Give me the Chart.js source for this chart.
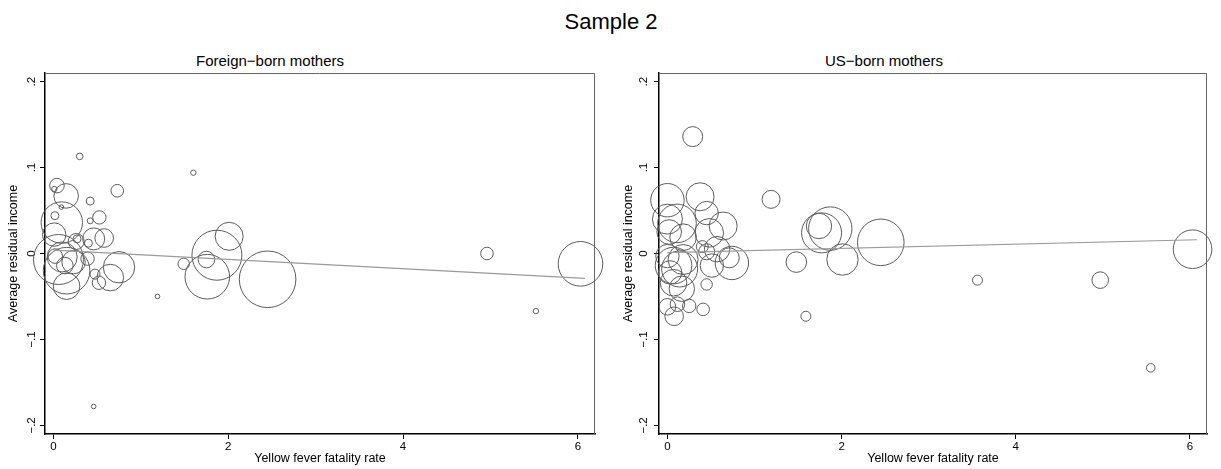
<!DOCTYPE html>
<html><head><meta charset="utf-8">
<script src="https://cdn.jsdelivr.net/npm/chart.js@4.4.1/dist/chart.umd.min.js"></script>
<style>
html,body{margin:0;padding:0;background:#fff;width:1221px;height:469px;overflow:hidden;font-family:'Liberation Sans',Arial,Helvetica,sans-serif}
.t{position:absolute;white-space:nowrap;transform:translate(-50%,-50%);color:#000;line-height:1}
.cv{position:absolute;top:0}
</style></head><body>
<div id="mainTitle" class="t" style="left:611px;top:22px;font-size:22px"></div>
<div id="sub1" class="t" style="left:270px;top:60px;font-size:15px"></div>
<div id="sub2" class="t" style="left:884px;top:60px;font-size:15px"></div>
<canvas id="c1" class="cv" style="left:0" width="610" height="469"></canvas>
<canvas id="c2" class="cv" style="left:610px" width="611" height="469"></canvas>
<script>
// ---- text ----
const mainTitle = 'Sample 2';
const panelTitles = ['Foreign\u2212born mothers', 'US\u2212born mothers'];
const xTitle = 'Yellow fever fatality rate';
const yTitle = 'Average residual income';

// ---- ticks ----
const xTicks = [0, 2, 4, 6];
const xTickLabels = ['0', '2', '4', '6'];
const yTicks = [-0.2, -0.1, 0, 0.1, 0.2];
const yTickLabels = ['\u2212.2', '\u2212.1', '0', '.1', '.2'];

// ---- Foreign-born mothers: fatality rate, residual income, weight (bubble size) ----
const fbX = [0.30, 1.60, 0.04, 0.01, 0.145, 0.73, 0.42, 0.09, 0.095, 0.016, 0.525, 0.42, 0.008, 0.58, 0.46, 0.27, 0.40,
             0.057, 0.02, 0.10, 0.23, 0.15, 0.39, 0.13, 0.75, 0.65, 0.475, 0.52, 0.15, 1.19, 1.49, 1.75, 1.87, 1.76,
             2.01, 2.45, 4.96, 5.52, 6.03, 0.46, 0.26];
const fbY = [0.113, 0.094, 0.079, 0.075, 0.067, 0.073, 0.061, 0.054, 0.036, 0.044, 0.042, 0.038, 0.022, 0.018, 0.017, 0.017, 0.012,
             -0.007, -0.003, -0.004, -0.010, -0.020, -0.006, -0.014, -0.016, -0.028, -0.024, -0.034, -0.038, -0.050, -0.012, -0.007, -0.002, -0.027,
             0.020, -0.030, 0.000, -0.067, -0.012, -0.178, 0.014];
const fbSize = [3.3, 2.7, 7.3, 2.7, 12.3, 6.3, 4, 2.3, 20.7, 4, 6.7, 3, 11.7, 9.3, 11, 4, 4,
                25, 7.3, 15, 11.7, 23.3, 6.7, 8.3, 15.7, 13.3, 5, 6.7, 13.3, 2.3, 5.7, 8.3, 25, 22.3,
                14, 28.3, 6.3, 2.7, 22.3, 2.3, 8];
const fbFitX = [0, 6.08];
const fbFitY = [0.004, -0.029];

// ---- US-born mothers ----
const usX = [0.29, 0.0, 0.375, 1.19, 0.45, 0.11, 0.0, 0.64, 0.02, 0.48, 0.18, 0.40, 0.45, 0.57, 0.71, 0.74, 0.0, 0.07, 0.18, 0.51,
             0.03, 0.07, 0.165, 0.45, 0.0, 0.115, 0.25, 0.077, 0.41, 1.48, 1.59, 1.77, 1.74, 1.87, 2.01, 2.45, 3.56, 4.97, 5.55, 6.03, 0.14];
const usY = [0.136, 0.062, 0.066, 0.063, 0.047, 0.035, 0.040, 0.032, 0.025, 0.024, 0.019, 0.008, 0.002, 0.005, -0.005, -0.011, -0.003, -0.014, -0.007, -0.014,
             -0.022, -0.034, -0.041, -0.036, -0.062, -0.059, -0.061, -0.073, -0.065, -0.010, -0.073, 0.024, 0.032, 0.029, -0.007, 0.013, -0.031, -0.031, -0.133, 0.005, -0.018];
const usSize = [10, 16.7, 14, 9, 11.7, 19.3, 15, 14, 12.3, 14.3, 13.3, 6, 8, 12.7, 10, 16.7, 11.7, 18.3, 15, 11.7,
                11.7, 13.3, 12.7, 5.7, 8.3, 7.3, 6.7, 9.3, 6.3, 10.3, 5, 20, 12.7, 21.7, 15.7, 23.3, 5, 8.3, 4.3, 19.3, 18];
const usFitX = [0, 6.08];
const usFitY = [0.001, 0.016];

document.getElementById('mainTitle').textContent = mainTitle;
document.getElementById('sub1').textContent = panelTitles[0];
document.getElementById('sub2').textContent = panelTitles[1];

const FAM = "'Liberation Sans', Arial, Helvetica, sans-serif";

const boxPlugin = {
  id: 'box',
  beforeDatasetsDraw(chart) {
    const a = chart.chartArea, ctx = chart.ctx;
    ctx.save();
    ctx.strokeStyle = '#666';
    ctx.lineWidth = 1;
    ctx.beginPath();
    ctx.moveTo(a.left, a.top + 0.5);
    ctx.lineTo(a.right - 0.5, a.top + 0.5);
    ctx.lineTo(a.right - 0.5, a.bottom);
    ctx.stroke();
    ctx.restore();
  }
};

function makePanel(id, xs, ys, ss, fx, fy, cfg) {
  const pts = xs.map((x, i) => ({x: x, y: ys[i], r: ss[i]}));
  const fit = fx.map((x, i) => ({x: x, y: fy[i]}));
  return new Chart(document.getElementById(id), {
    type: 'bubble',
    data: {
      datasets: [
        {type: 'bubble', data: pts, backgroundColor: 'rgba(0,0,0,0)', borderColor: '#5c5c5c', borderWidth: 1,
         hoverRadius: 0, clip: false, order: 2},
        {type: 'line', data: fit, borderColor: '#9a9a9a', borderWidth: 1.2, pointRadius: 0, fill: false,
         tension: 0, clip: false, order: 1}
      ]
    },
    options: {
      responsive: false, animation: false, events: [],
      layout: {autoPadding: false, padding: {top: 73, right: cfg.padRight, left: 0, bottom: 0}},
      plugins: {legend: {display: false}, tooltip: {enabled: false}, title: {display: false}},
      scales: {
        x: {
          type: 'linear', position: 'bottom', min: -0.097, max: 6.196,
          afterBuildTicks: s => { s.ticks = xTicks.map(v => ({value: v})); },
          afterFit: s => { s.height = 35; },
          grid: {display: true, drawOnChartArea: false, drawTicks: true, tickLength: 5, tickColor: '#000', tickWidth: 1},
          border: {display: true, color: '#000', width: 1.5},
          ticks: {font: {size: 11.5, family: FAM}, color: '#000', padding: 1, maxRotation: 0, minRotation: 0, autoSkip: false,
                  callback: (v, i) => xTickLabels[i]},
          title: {display: true, text: xTitle, color: '#000', font: {size: 12.5, family: FAM}, padding: {top: 0, bottom: 3}}
        },
        y: {
          type: 'linear', position: 'left', min: -0.21, max: 0.21,
          afterBuildTicks: s => { s.ticks = yTicks.map(v => ({value: v})); },
          afterFit: s => { s.width = cfg.yWidth; },
          grid: {display: true, drawOnChartArea: false, drawTicks: true, tickLength: 5, tickColor: '#000', tickWidth: 1},
          border: {display: true, color: '#000', width: 1.5},
          ticks: {font: {size: 11.5, family: FAM}, color: '#000', padding: cfg.tickPad, minRotation: 90, maxRotation: 90,
                  autoSkip: false, crossAlign: 'center', callback: (v, i) => yTickLabels[i]},
          title: {display: true, text: yTitle, color: '#000', font: {size: 12.5, family: FAM}, padding: {top: cfg.titlePad, bottom: 0}}
        }
      }
    },
    plugins: [boxPlugin]
  });
}

makePanel('c1', fbX, fbY, fbSize, fbFitX, fbFitY, {yWidth: 45, padRight: 15, tickPad: 0, titlePad: 6.5});
makePanel('c2', usX, usY, usSize, usFitX, usFitY, {yWidth: 49, padRight: 14, tickPad: 2, titlePad: 11.5});
</script>
</body></html>
